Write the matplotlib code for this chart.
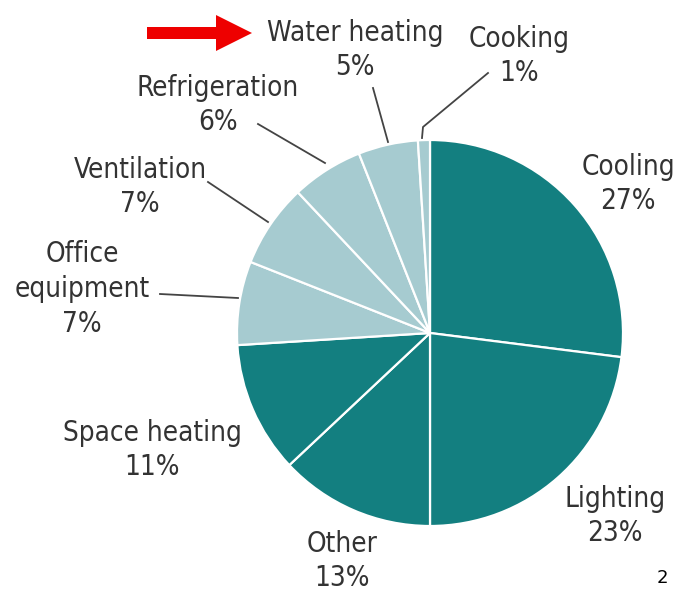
import matplotlib.pyplot as plt
from matplotlib.patches import FancyArrow

# energy use shares, clockwise from 12 o'clock
labels = ["Cooling", "Lighting", "Other", "Space heating", "Office\nequipment",
          "Ventilation", "Refrigeration", "Water heating", "Cooking"]
shares = [27, 23, 13, 11, 7, 7, 6, 5, 1]

W, H = 678, 592
dark = "#137f80"
light = "#a6cbd0"
txt = "#333333"
colors = [dark] * 4 + [light] * 5

fig = plt.figure(figsize=(W / 100, H / 100), dpi=100)
ax = fig.add_axes([0, 0, 1, 1])

ax.pie(shares, colors=colors, startangle=90, counterclock=False,
       center=(430, H - 333), radius=193, frame=True,
       wedgeprops=dict(edgecolor="white", linewidth=1.6))
ax.set_xlim(0, W)
ax.set_ylim(0, H)
ax.set_aspect("equal")
ax.axis("off")

# label centres in image pixels (x, y)
pos = [(628, 184), (615, 516), (342, 561), (152, 450), (82, 289),
       (140, 187), (218, 105), (355, 50), (519, 56)]
font = dict(family="DejaVu Sans", stretch="condensed", fontsize=20,
            color=txt, ha="center", va="center", linespacing=1.3)
for lab, s, (x, y) in zip(labels, shares, pos):
    ax.text(x, H - y, f"{lab}\n{s}%", **font)

# leader lines
leaders = [
    [(373, 88), (388, 142)],
    [(488, 73), (423, 127), (422, 138)],
    [(258, 124), (325, 163)],
    [(208, 182), (268, 222)],
    [(160, 294), (238, 298)],
]
for pts in leaders:
    xs = [p[0] for p in pts]
    ys = [H - p[1] for p in pts]
    ax.plot(xs, ys, color="#444444", lw=1.3)

# red arrow pointing at "Water heating"
ax.add_patch(FancyArrow(147, H - 33, 105, 0, width=12, head_width=36,
                        head_length=36, length_includes_head=True,
                        color="#ee0000", lw=0))

ax.text(662, H - 578, "2", fontsize=13, ha="center", va="center",
        family="DejaVu Sans", color="black")

fig.savefig("out.png", dpi=100)
